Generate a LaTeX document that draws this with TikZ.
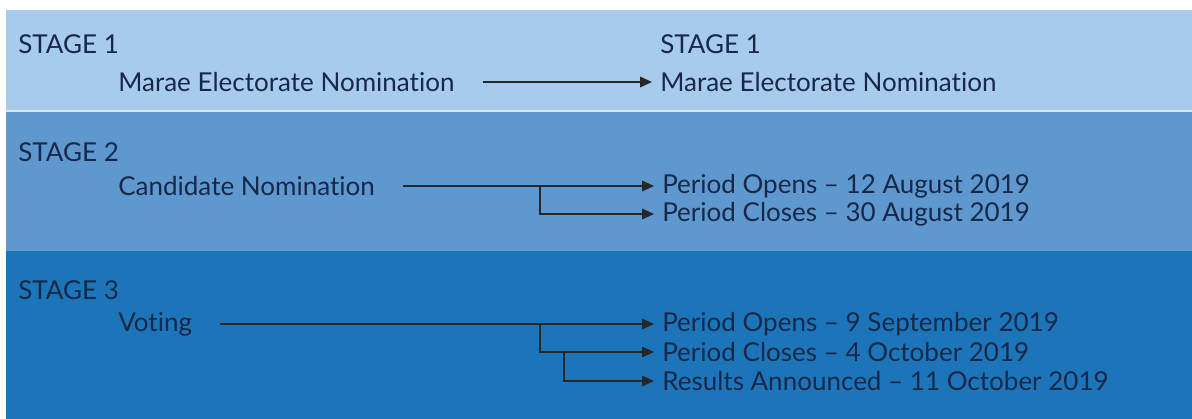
\documentclass[tikz,border=0pt]{standalone}
\usepackage{fontspec}
\setmainfont{Lato}[Ligatures=NoCommon]
\usepackage{xcolor}
\usetikzlibrary{arrows.meta}

\definecolor{bandone}{HTML}{A7CBEC}
\definecolor{bandtwo}{HTML}{5E98CE}
\definecolor{bandthree}{HTML}{1C75B8}
\definecolor{inkblue}{HTML}{17284A}

\begin{document}
\begin{tikzpicture}[
    x=0.025cm, y=-0.025cm,
    every node/.style={font=\fontsize{18.5}{21}\selectfont},
    stage/.style={
        anchor=west,
        inner sep=0pt,
        text=inkblue
    },
    entry/.style={
        anchor=west,
        inner sep=0pt,
        text=inkblue
    },
    arrow/.style={
        line width=1.3pt,
        draw=black!85,
        -{Triangle[length=8.5pt,width=7.5pt]},
        shorten <=0.7cm,
        shorten >=0.2cm
    },
    branch/.style={arrow, shorten <=0pt}
]
\useasboundingbox (0,0) rectangle (1192,419);

% Bands
\fill[bandone]   (6,10)  rectangle (1192,111);
\fill[bandtwo]   (6,111) rectangle (1192,251);
\fill[bandthree] (6,251) rectangle (1192,419);
\draw[white!55!bandone, line width=0.8pt] (6,111) -- (1192,111);

% Stage 1
\node (stageone)   [stage] at (18,44)  {STAGE 1};
\node (marae)      [entry] at (118,82) {Marae Electorate Nomination};
\node (stageonebis)[stage] at (660,44) {STAGE 1};
\node (maraebis)   [entry] at (660,82) {Marae Electorate Nomination};

% Stage 2
\node (stagetwo)   [stage] at (18,152)  {STAGE 2};
\node (candidate)  [entry] at (118,186) {Candidate Nomination};
\node (candopen)   [entry] at (662,186) {Period Opens -- 12 August 2019};
\node (candclose)  [entry] at (662,214) {Period Closes -- 30 August 2019};

% Stage 3
\node (stagethree) [stage] at (18,290)  {STAGE 3};
\node (voting)     [entry] at (118,324) {Voting};
\node (voteopen)   [entry] at (662,324) {Period Opens -- 9 September 2019};
\node (voteclose)  [entry] at (662,352) {Period Closes -- 4 October 2019};
\node (results)    [entry] at (662,381) {Results Announced -- 11 October 2019};

\coordinate (forktwo)    at (540,186);
\coordinate (forkthree)  at (540,324);
\coordinate (forkfour)   at (564,352);

% Arrows
\draw[arrow] (marae) -- (maraebis);
\draw[arrow] (candidate) -- (candopen);
\draw[branch] (forktwo) |- (candclose);
\draw[arrow] (voting) -- (voteopen);
\draw[branch] (forkthree) |- (voteclose);
\draw[branch] (forkfour) |- (results);

\end{tikzpicture}
\end{document}
